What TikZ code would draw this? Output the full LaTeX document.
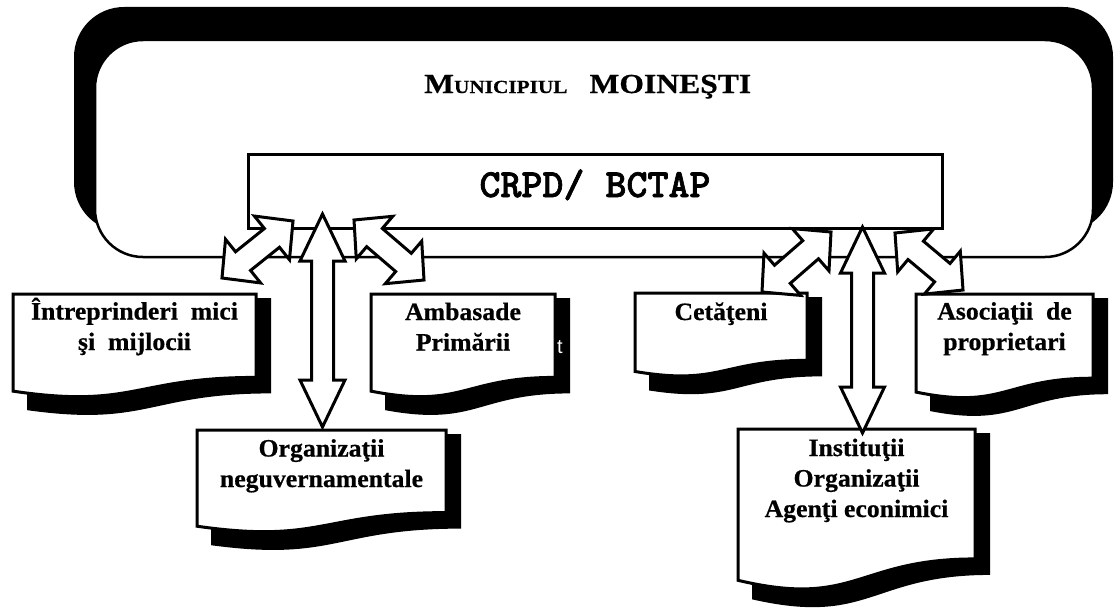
\documentclass[tikz,border=0pt]{standalone}
\usepackage{fontspec}
\usetikzlibrary{calc}
\setmainfont{Liberation Serif}
\newfontfamily\boxfont[FakeStretch=1.03,FakeBold=0.6]{Liberation Serif}
\newfontfamily\headfont[FakeStretch=1.15,FakeBold=0.6]{Liberation Serif}
\newfontfamily\crpdfont[FakeBold=1.6]{lmmonolt10-bold.otf}
\newfontfamily\tfont{Liberation Sans}

\tikzset{
  docline/.style={draw=black, fill=white, line width=3pt, line join=miter},
  blockarrow/.style={draw=black, fill=white, line width=3pt, line join=miter, miter limit=10},
  boxtext/.style={align=center, inner sep=0pt, anchor=base,
    font=\boxfont\bfseries\fontsize{25}{30.5}\selectfont},
}

\newcommand\docbox[4]{%
  \pgfmathsetmacro\xa{#1}\pgfmathsetmacro\ya{#2}%
  \pgfmathsetmacro\xb{#3}\pgfmathsetmacro\hh{#4}%
  \pgfmathsetmacro\xm{(\xa+\xb)/2}%
  \pgfmathsetmacro\yR{\ya+0.802*\hh}%
  \pgfmathsetmacro\yL{\ya+0.934*\hh}%
  \pgfmathsetmacro\yC{\ya+1.107*\hh}%
  \fill[black] (\xa+14,\ya+4) -- (\xb+15,\ya+4) -- (\xb+15,\yR+16)
     .. controls (\xm+14,\yR+16) and (\xm+14,\yC+18) .. (\xa+14,\yL+19) -- cycle;
  \draw[docline] (\xa,\ya) -- (\xb,\ya) -- (\xb,\yR)
     .. controls (\xm,\yR) and (\xm,\yC) .. (\xa,\yL) -- cycle;
}

\newcommand\dblarrow[5]{%
  \draw[blockarrow] (#1)
   -- ($(#1)!#3!(#2)!#4!90:(#2)$)
   -- ($(#1)!#3!(#2)!#5!90:(#2)$)
   -- ($(#2)!#3!(#1)!#5!-90:(#1)$)
   -- ($(#2)!#3!(#1)!#4!-90:(#1)$)
   -- (#2)
   -- ($(#2)!#3!(#1)!#4!90:(#1)$)
   -- ($(#2)!#3!(#1)!#5!90:(#1)$)
   -- ($(#1)!#3!(#2)!#5!-90:(#2)$)
   -- ($(#1)!#3!(#2)!#4!-90:(#2)$)
   -- cycle;}

\begin{document}
\begin{tikzpicture}[x=1pt,y=-1pt]
\useasboundingbox (0,0) rectangle (1115,610);

% big municipality frame
\node[fill=black, rounded corners=50pt, minimum width=1039pt, minimum height=225pt, inner sep=0pt]
  (munback) at (593.5,119.5) {};
\node[draw=black, fill=white, line width=2.5pt, rounded corners=48pt,
  minimum width=998pt, minimum height=217pt, inner sep=0pt]
  (mun) at (594,148.5) {};
\node[anchor=base west, inner sep=0pt] (munT) at (424,93)
  {\headfont\bfseries\fontsize{27.5}{30}\selectfont M{\fontsize{18.5}{20}\selectfont UNICIPIUL}\hspace{22pt}MOINEŞTI};

% CRPD box
\node[draw=black, fill=white, line width=3pt, minimum width=694pt, minimum height=74pt, inner sep=0pt]
  (crpd) at (595,191) {};
\node[anchor=base, inner sep=0pt] (crpdT) at (595,197)
  {\crpdfont\fontsize{40}{42}\selectfont CRPD/ BCTAP};

% document boxes (text nodes anchored at the baseline of their last line)
\docbox{13}{294}{256}{104}
\node[boxtext] (intr) at (134.5,350) {Întreprinderi~~mici\\şi~~mijlocii};

\docbox{371}{294}{555}{104}
\node[boxtext] (amb) at (463,350.5) {Ambasade\\Primării};
\node[text=white, inner sep=0pt, font=\tfont\fontsize{20}{20}\selectfont] (tmark) at (560,347) {t};

\docbox{197}{430}{446}{103}
\node[boxtext] (org) at (321.5,487) {Organizaţii\\neguvernamentale};

\docbox{635}{293}{807}{84}
\node[boxtext] (cet) at (721,320) {Cetăţeni};

\docbox{916}{294}{1093}{105}
\node[boxtext] (aso) at (1004.5,350) {Asociaţii~~de\\proprietari};

\docbox{738}{429}{975}{162}
\node[boxtext] (inst) at (856.5,517) {Instituţii\\Organizaţii\\Agenţi econimici};

% arrow end points
\coordinate (l1a) at (222,278);   \coordinate (l1b) at (293,221);
\coordinate (l2a) at (322.5,214); \coordinate (l2b) at (322.5,427);
\coordinate (l3a) at (354,220);   \coordinate (l3b) at (424,280);
\coordinate (r1a) at (762,292);   \coordinate (r1b) at (831,232);
\coordinate (r2a) at (862.5,227); \coordinate (r2b) at (862.5,433);
\coordinate (r3a) at (895,233);   \coordinate (r3b) at (963,290);

\dblarrow{l1a}{l1b}{27pt}{28pt}{12pt}
\dblarrow{l2a}{l2b}{47pt}{22.5pt}{11pt}
\dblarrow{l3a}{l3b}{27pt}{28pt}{12pt}
\dblarrow{r1a}{r1b}{27pt}{28pt}{12pt}
\dblarrow{r2a}{r2b}{46pt}{22pt}{11pt}
\dblarrow{r3a}{r3b}{27pt}{28pt}{12pt}
\end{tikzpicture}
\end{document}
